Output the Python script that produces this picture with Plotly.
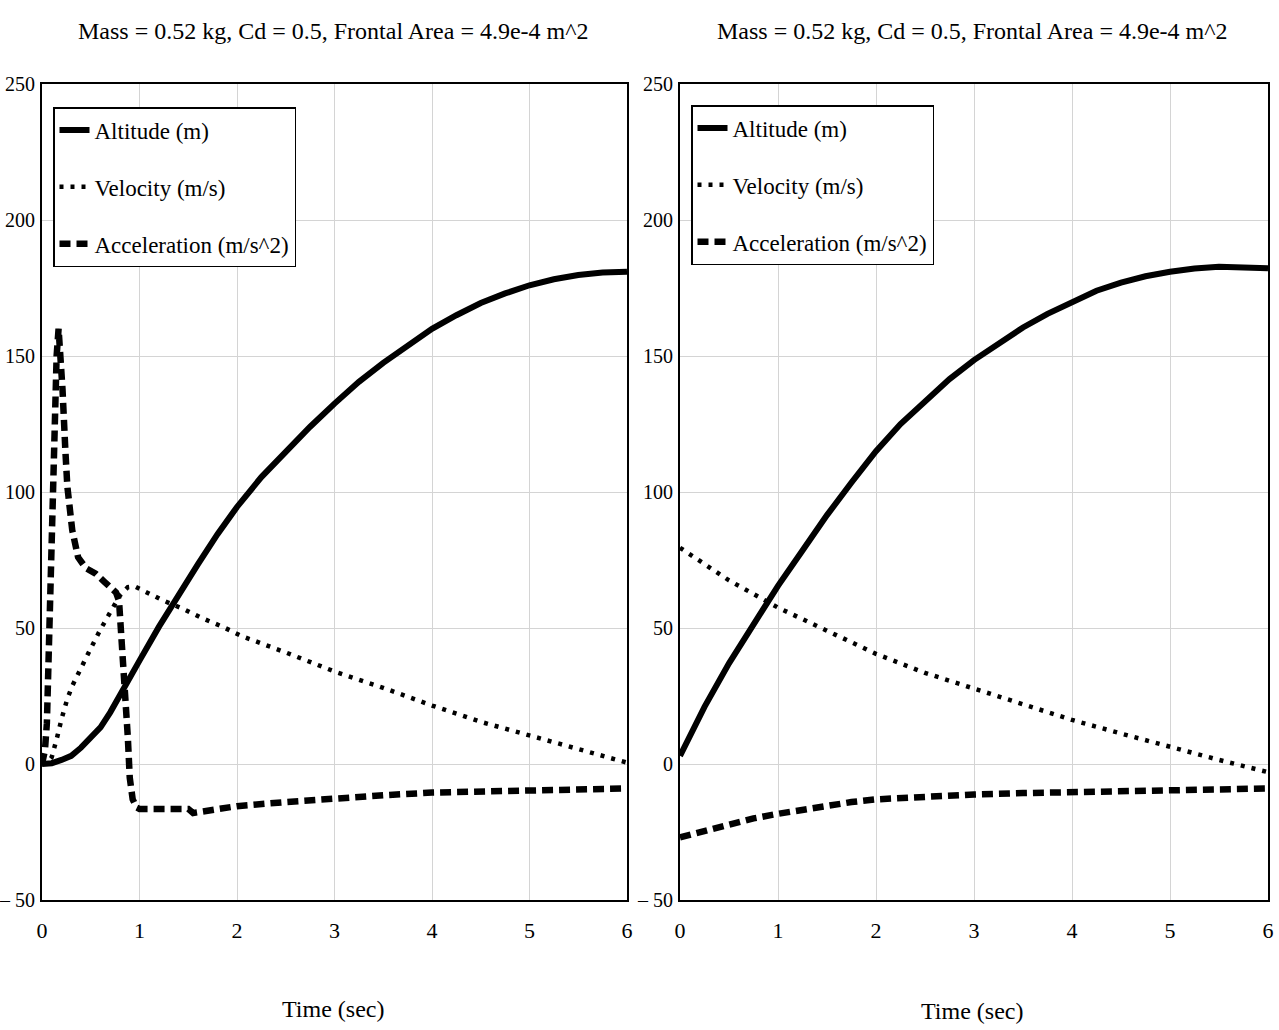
import plotly.graph_objects as go

# ---------------- data ----------------
title_text = "Mass = 0.52 kg, Cd = 0.5, Frontal Area = 4.9e-4 m^2"
axis_title = "Time (sec)"
series_names = ["Altitude (m)", "Velocity (m/s)", "Acceleration (m/s^2)"]

x_ticks = [0, 1, 2, 3, 4, 5, 6]
x_ticklabels = ["0", "1", "2", "3", "4", "5", "6"]
y_ticks = [-50, 0, 50, 100, 150, 200, 250]
y_ticklabels = ["\u2013 50", "0", "50", "100", "150", "200", "250"]

# Left panel (powered flight + coast)
left_alt_t = [0, 0.1, 0.2, 0.3, 0.4, 0.5, 0.6, 0.7, 0.8, 0.9, 1.0, 1.2, 1.4, 1.6, 1.8, 2.0,
              2.25, 2.5, 2.75, 3.0, 3.25, 3.5, 3.75, 4.0, 4.25, 4.5, 4.75, 5.0, 5.25, 5.5, 5.75, 6.0]
left_alt = [0, 0.3, 1.5, 3, 6, 9.5, 13.5, 19, 25, 31.5, 38, 50.5, 62.5, 73.5, 84.5, 94.5,
            105.5, 115, 124, 132.5, 140.5, 147.5, 154, 160, 165, 169.5, 173, 176, 178.2, 179.8, 180.7, 181]

left_vel_t = [0, 0.05, 0.1, 0.13, 0.16, 0.2, 0.26, 0.31, 0.4, 0.5, 0.6, 0.7, 0.8, 0.88, 0.95,
              1.05, 1.25, 1.45, 1.65, 1.85, 2.05, 2.5, 3.0, 3.5, 4.0, 4.5, 5.0, 5.5, 6.0]
left_vel = [0, 0.3, 2.5, 6, 10.5, 16.5, 24, 28.7, 35.5, 42.5, 49.5, 56, 62, 65, 65.3,
            63.5, 60, 57, 53.5, 50.5, 47, 41, 34, 28, 21.5, 15.5, 10.5, 5.5, 0.5]

left_acc_t = [0, 0.03, 0.05, 0.07, 0.09, 0.11, 0.13, 0.15, 0.17, 0.19, 0.21, 0.24, 0.26, 0.31,
              0.37, 0.45, 0.55, 0.64, 0.7, 0.76, 0.79, 0.82, 0.85, 0.88, 0.9, 0.93, 0.97, 1.0,
              1.25, 1.5, 1.55, 1.75, 2.0, 2.5, 3.0, 3.5, 4.0, 4.5, 5.0, 5.5, 6.0]
left_acc = [0, 5, 15, 45, 80, 105, 130, 150, 160, 150, 138, 115, 102, 86,
            76, 72, 70, 67, 65, 63, 60, 45, 30, 10, -5, -13, -16, -16.5,
            -16.5, -16.5, -18, -17, -15.5, -14, -12.5, -11.5, -10.5, -10, -9.5, -9.2, -9]

# Right panel (coast from burnout)
right_t = [0, 0.25, 0.5, 0.75, 1, 1.25, 1.5, 1.75, 2, 2.25, 2.5, 2.75, 3, 3.25, 3.5, 3.75,
           4, 4.25, 4.5, 4.75, 5, 5.25, 5.5, 5.75, 6]
right_alt = [3, 21, 37, 51.5, 65.5, 78.5, 91.5, 103.5, 115, 125, 133.5, 141.5, 148.5, 154.5,
             160.5, 165.5, 170, 174, 177, 179.3, 181, 182.2, 182.8, 182.8, 182.3]

right_vel_t = [0, 0.5, 1, 1.5, 2, 2.5, 3, 3.5, 4, 4.5, 5, 5.5, 6]
right_vel = [79.5, 67.5, 57.5, 49, 40.5, 33.5, 27.6, 21.8, 16.2, 11.2, 6.3, 1.5, -3]

right_acc_t = [0, 0.25, 0.5, 0.75, 1, 1.25, 1.5, 1.75, 2, 2.5, 3, 3.5, 4, 4.5, 5, 5.5, 6]
right_acc = [-27, -24.5, -22, -20, -18.3, -16.8, -15.5, -14, -13, -12, -11.2, -10.7, -10.3,
             -9.8, -9.3, -9.1, -9]

# ---------------- figure ----------------
W, H = 1279, 1030
FONT = "Liberation Serif, Times New Roman, serif"

def px_x(p):
    return p / W

def px_y(p):
    return 1 - p / H

left_dom = [px_x(42), px_x(627)]
right_dom = [px_x(680), px_x(1268)]
y_dom = [px_y(900), px_y(84)]

alt_style = dict(color="black", width=6)
vel_style = dict(color="black", width=4.5, dash="4px,7px")
acc_style = dict(color="black", width=6.5, dash="11px,6px")

fig = go.Figure()

panels = [
    ("x", "y", "legend", left_alt_t, left_alt, left_vel_t, left_vel, left_acc_t, left_acc),
    ("x2", "y2", "legend2", right_t, right_alt, right_vel_t, right_vel, right_acc_t, right_acc),
]
for xa, ya, lg, at, av, vt, vv, ct, cv in panels:
    fig.add_trace(go.Scatter(x=at, y=av, mode="lines", name=series_names[0], line=alt_style,
                             xaxis=xa, yaxis=ya, legend=lg, legendgroup=lg + "a"))
    fig.add_trace(go.Scatter(x=vt, y=vv, mode="lines", name=series_names[1], line=vel_style,
                             xaxis=xa, yaxis=ya, legend=lg, legendgroup=lg + "v"))
    fig.add_trace(go.Scatter(x=ct, y=cv, mode="lines", name=series_names[2], line=acc_style,
                             xaxis=xa, yaxis=ya, legend=lg, legendgroup=lg + "c"))

xaxis_common = dict(range=[0, 6], tickvals=x_ticks, ticktext=x_ticklabels, showgrid=True,
                    gridcolor="#d4d4d4", gridwidth=1, zeroline=False, showline=True,
                    linecolor="black", linewidth=2, mirror=True, ticks="", automargin=False,
                    tickfont=dict(family=FONT, size=22, color="black"), ticklabelstandoff=10)
yaxis_common = dict(range=[-50, 250], tickvals=y_ticks, ticktext=y_ticklabels, showgrid=True,
                    gridcolor="#d4d4d4", gridwidth=1, zeroline=False, showline=True,
                    linecolor="black", linewidth=2, mirror=True, ticks="", automargin=False,
                    tickfont=dict(family=FONT, size=20, color="black"), ticklabelstandoff=1)

legend_common = dict(bgcolor="white", bordercolor="black", borderwidth=1.5,
                     font=dict(family=FONT, size=23, color="black"),
                     xanchor="left", yanchor="top", traceorder="grouped",
                     tracegroupgap=24, itemwidth=30)

ann_font = dict(family=FONT, size=24, color="black")

fig.update_layout(
    width=W, height=H,
    margin=dict(l=0, r=0, t=0, b=0, autoexpand=False),
    paper_bgcolor="white", plot_bgcolor="white",
    showlegend=True,
    xaxis=dict(domain=left_dom, anchor="y", **xaxis_common),
    yaxis=dict(domain=y_dom, anchor="x", **yaxis_common),
    xaxis2=dict(domain=right_dom, anchor="y2", **xaxis_common),
    yaxis2=dict(domain=y_dom, anchor="x2", **yaxis_common),
    legend=dict(x=px_x(53), y=px_y(107), **legend_common),
    legend2=dict(x=px_x(691), y=px_y(105), **legend_common),
    annotations=[
        dict(text=title_text, x=px_x(333), y=px_y(31), xref="paper", yref="paper",
             xanchor="center", yanchor="middle", showarrow=False, font=ann_font),
        dict(text=title_text, x=px_x(972), y=px_y(31), xref="paper", yref="paper",
             xanchor="center", yanchor="middle", showarrow=False, font=ann_font),
        dict(text=axis_title, x=px_x(333), y=px_y(1009), xref="paper", yref="paper",
             xanchor="center", yanchor="middle", showarrow=False, font=ann_font),
        dict(text=axis_title, x=px_x(972), y=px_y(1011), xref="paper", yref="paper",
             xanchor="center", yanchor="middle", showarrow=False, font=ann_font),
    ],
)

fig.write_html("out.html")
